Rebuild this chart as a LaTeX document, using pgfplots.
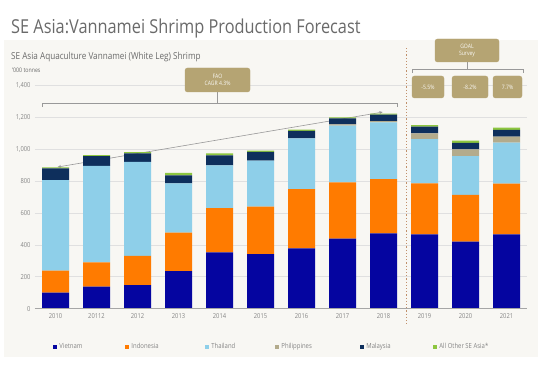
\documentclass[border=0pt]{standalone}
\usepackage{fontspec}
\setmainfont[FakeStretch=0.85]{Open Sans}
\usepackage{pgfplots}
\pgfplotsset{compat=1.18}
\usepackage{pgfplotstable}
\usetikzlibrary{arrows.meta}
\definecolor{cVN}{HTML}{0505A0}
\definecolor{cID}{HTML}{FF7B00}
\definecolor{cTH}{HTML}{8ECFE9}
\definecolor{cPH}{HTML}{B3AB8C}
\definecolor{cMY}{HTML}{0E2F5C}
\definecolor{cOT}{HTML}{8DC63F}
\definecolor{panel}{HTML}{F8F7F3}
\definecolor{gold}{HTML}{B5A473}
\definecolor{txtgray}{HTML}{6A6A6A}
\definecolor{lblgray}{HTML}{858585}
\definecolor{dashc}{HTML}{C0906A}

\pgfplotstableread{
x V I T P M O
0 100 138 567 0 74 6
1 138 152 604 0 62 6
2 148 182 589 0 54 8
3 236 240 309 0 50 15
4 353 277 268 0 62 13
5 342 297 288 0 55 8
6 378 371 318 0 46 8
7 438 353 355 8 38 6
8 472 340 355 8 40 6
9 466 319 276 37 42 10
10 420 292 244 42 40 14
11 466 317 257 37 42 15
}\data

\begin{document}
\begin{tikzpicture}
\useasboundingbox (0,0) rectangle (540pt,364pt);
\fill[panel] (4pt,7pt) rectangle (538pt,324pt);
\node[anchor=base west, inner sep=0, text=txtgray, font=\fontsize{19.2}{22}\selectfont] at (11pt,330pt) {SE Asia:Vannamei Shrimp Production Forecast};
\node[anchor=base west, inner sep=0, text=txtgray, font=\fontsize{9.6}{11}\selectfont] at (11pt,304pt) {SE Asia Aquaculture Vannamei (White Leg) Shrimp};
\node[anchor=base west, inner sep=0, text=txtgray, font=\fontsize{6.2}{7}\selectfont] at (12pt,291.5pt) {'000 tonnes};

\begin{axis}[
  at={(35pt,55.3pt)}, anchor=south west,
  scale only axis, width=492pt, height=223.6pt,
  ybar stacked, bar width=27pt,
  xmin=-0.5, xmax=11.5, ymin=0, ymax=1400,
  xtick={0,...,11},
  xticklabels={2010,20112,2012,2013,2014,2015,2016,2017,2018,2019,2020,2021},
  ytick={0,200,...,1400},
  /pgf/number format/assume math mode=true,
  /pgf/number format/1000 sep={,},
  ymajorgrids, grid style={draw=black!12, line width=0.6pt},
  axis line style={draw=none},
  tick style={draw=none},
  ticklabel style={font=\fontsize{6.8}{8}\selectfont, text=lblgray},
  yticklabel style={xshift=-1pt},
  xticklabel style={yshift=-1pt},
  clip=false,
  legend columns=6,
  legend style={draw=none, fill=none, at={(axis description cs:0.03,-0.171)}, anchor=west,
    font=\fontsize{7}{8}\selectfont, text=lblgray, nodes={inner sep=1pt},
    /tikz/every even column/.style={column sep=0pt}},
  legend image code/.code={\fill[#1] (0pt,-2pt) rectangle (4pt,2pt);},
]
\draw[black!35, line width=0.6pt] (axis cs:-0.5,0) -- (axis cs:11.5,0);
\addplot[fill=cVN, draw=none] table[x=x,y=V]{\data};
\addplot[fill=cID, draw=none] table[x=x,y=I]{\data};
\addplot[fill=cTH, draw=none] table[x=x,y=T]{\data};
\addplot[fill=cPH, draw=none] table[x=x,y=P]{\data};
\addplot[fill=cMY, draw=none] table[x=x,y=M]{\data};
\addplot[fill=cOT, draw=none] table[x=x,y=O]{\data};
\legend{\makebox[66pt][l]{\hspace{1.5pt}Vietnam},\makebox[74pt][l]{\hspace{1.5pt}Indonesia},\makebox[64pt][l]{\hspace{1.5pt}Thailand},\makebox[79pt][l]{\hspace{1.5pt}Philippines},\makebox[67pt][l]{\hspace{1.5pt}Malaysia},\hspace{1.5pt}All Other SE Asia*}
\draw[dashc, dotted, line width=1.2pt] (axis cs:8.56,1632) -- (axis cs:8.56,-102);
\draw[black!40, line width=0.6pt, {Stealth[length=3.5pt,width=3pt]}-{Stealth[length=3.5pt,width=3pt]}] (axis cs:0.05,887) -- (axis cs:7.98,1231);
\end{axis}

% FAO annotation
\draw[black!40, line width=0.6pt] (42pt,257pt) -- (42pt,261pt) -- (397pt,261pt) -- (397pt,257pt);
\draw[black!40, line width=0.6pt] (217pt,261pt) -- (217pt,272pt);
\filldraw[gold, rounded corners=2.5pt] (185pt,296pt) rectangle (250pt,272pt);
\node[align=center, text=white!92!gold, font=\fontsize{6}{7.5}\selectfont, inner sep=0] at (217.5pt,284pt) {FAO\\CAGR 4.3\%};

% GOAL annotation
\filldraw[gold, rounded corners=2.5pt] (435pt,325pt) rectangle (499pt,302pt);
\node[align=center, text=white!92!gold, font=\fontsize{6}{7.5}\selectfont, inner sep=0] at (467pt,313.5pt) {GOAL\\Survey};
\draw[black!40, line width=0.6pt] (412pt,291pt) -- (412pt,295pt) -- (523pt,295pt) -- (523pt,291pt);
\draw[black!40, line width=0.6pt] (467pt,295pt) -- (467pt,302pt);
\filldraw[gold, rounded corners=2.5pt] (412pt,288pt) rectangle (444pt,266pt);
\filldraw[gold, rounded corners=2.5pt] (452pt,288pt) rectangle (488pt,266pt);
\filldraw[gold, rounded corners=2.5pt] (493pt,288pt) rectangle (522pt,266pt);
\node[text=white!92!gold, font=\fontsize{6}{7.5}\selectfont, inner sep=0] at (428pt,277pt) {-5.5\%};
\node[text=white!92!gold, font=\fontsize{6}{7.5}\selectfont, inner sep=0] at (470pt,277pt) {-8.2\%};
\node[text=white!92!gold, font=\fontsize{6}{7.5}\selectfont, inner sep=0] at (507.5pt,277pt) {7.7\%};
\end{tikzpicture}
\end{document}
